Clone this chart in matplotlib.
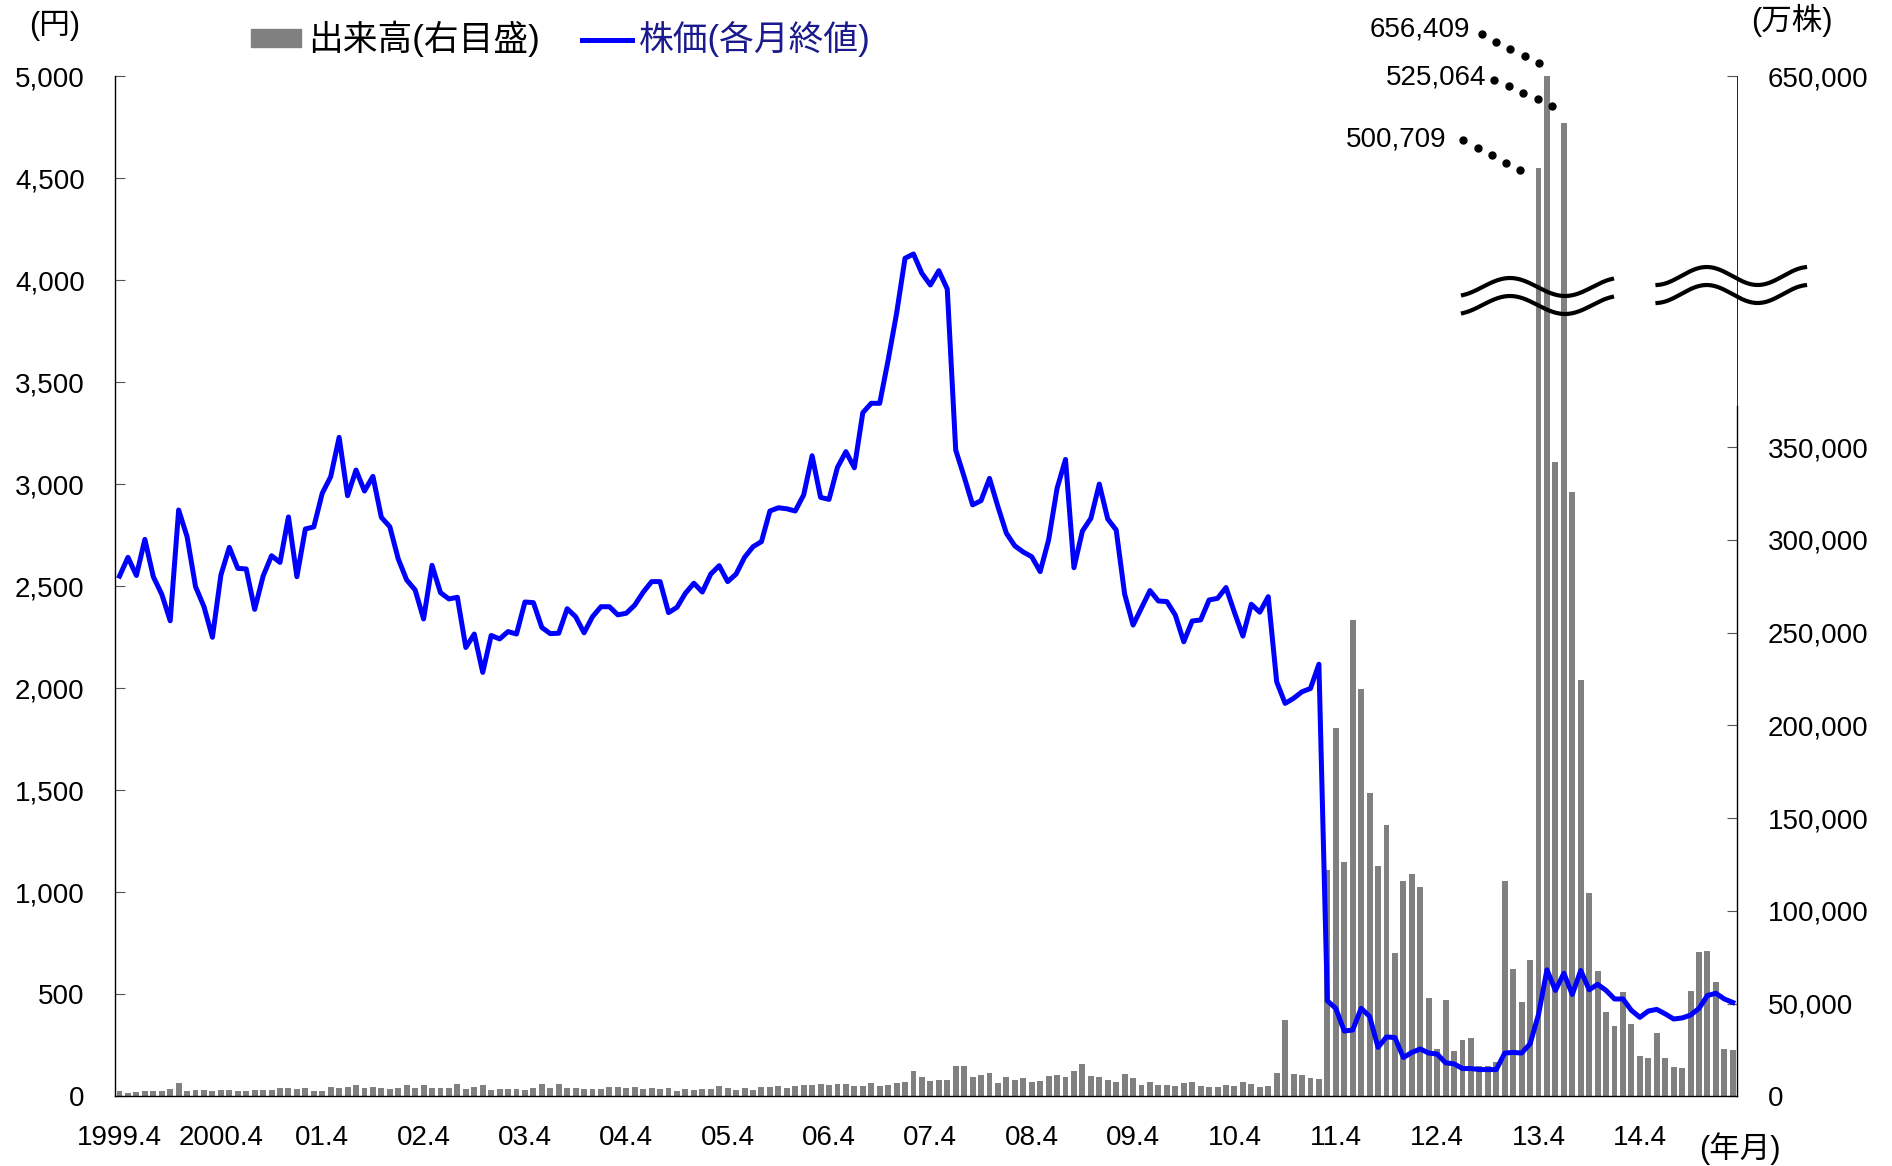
import numpy as np
import matplotlib
matplotlib.use("Agg")
import matplotlib.pyplot as plt
from matplotlib.patches import Patch
from matplotlib.lines import Line2D

plt.rcParams['font.family'] = ['Liberation Sans', 'Noto Sans CJK JP']

# 株価 (円, 各月終値) 1999.4 - 2015.3
price = [2550, 2642, 2553, 2730, 2547, 2461, 2331, 2874, 2743, 2498,
         2400, 2250, 2555, 2691, 2588, 2585, 2387, 2550, 2650, 2617,
         2840, 2547, 2781, 2791, 2956, 3037, 3230, 2944, 3070, 2967,
         3039, 2838, 2792, 2634, 2531, 2482, 2340,
         2603, 2469, 2438, 2446, 2200, 2266, 2078, 2259, 2242, 2278,
         2266, 2423, 2420, 2298, 2268, 2270, 2390, 2351, 2272, 2351,
         2400, 2400, 2360, 2368, 2408, 2471, 2523, 2523, 2371, 2397,
         2466, 2515, 2472, 2560, 2601, 2523, 2560, 2642,
         2694, 2719, 2869, 2885, 2880, 2869, 2948, 3140, 2936, 2926,
         3083, 3160, 3081, 3351, 3397, 3397, 3609, 3838, 4108, 4129,
         4034, 3977, 4047, 3957, 3168, 3037, 2899, 2920, 3029, 2890,
         2760, 2698, 2668, 2645, 2572, 2727, 2980, 3122,
         2591, 2771, 2833, 3001, 2830, 2776, 2462, 2310, 2395, 2479,
         2428, 2425, 2359, 2228, 2330, 2335, 2433, 2441, 2494, 2372,
         2256, 2412, 2373, 2449, 2032, 1926, 1951, 1983, 1999, 2118,
         468, 431, 320, 325, 431, 392, 240, 291, 288, 190,
         215, 232, 212, 207, 164, 159, 136, 136, 131, 131,
         131, 212, 215, 212, 257,
         401, 620, 519, 603, 499, 617, 522, 549, 519, 477,
         477, 421, 387, 418, 426, 404, 379, 384, 398, 431,
         494, 505, 477, 460]

# 出来高 (万株)
volume = [2850, 1780, 2310, 2670, 2670, 3030, 4110, 7160, 3030, 3390,
          3390, 3030, 3570, 3570, 3030, 3030, 3210, 3210, 3210, 4290,
          4290, 3930, 4650, 3030, 3030, 4830, 4650, 5010, 6260, 4650,
          5010, 4470, 3750, 4470, 6080, 4290, 5900, 4290, 4290, 4290,
          6620, 4110, 4830, 6080, 3570, 3750, 3750, 3750, 3390, 4470,
          6440, 4290, 6440, 4470, 4290, 4110, 3750, 3750, 4830, 4830,
          4290, 4830, 3930, 4470, 4110, 4650, 3030, 3750, 3570, 3750,
          3750, 5360, 4290, 3570, 4290, 3210, 4830, 4830, 5550, 4470,
          5360, 6260, 6260, 6800, 5900, 6440, 6440, 5360, 5720, 6980,
          5550, 6260, 6980, 7700, 13440, 10210, 8060, 8780, 8780, 16490,
          16310, 10390, 11290, 12370, 7160, 10570, 8600, 9690, 7520, 8240,
          10750, 11470, 10210, 13800, 17390, 10750, 10210, 8780, 7700, 12010,
          9690, 5900, 7880, 5900, 5900, 5360, 6980, 7520, 5720, 5010,
          5010, 5900, 5550, 7520, 6440, 4830, 5360, 12730, 41070, 12010,
          11300, 9690, 9150,
          122200, 198400, 126300, 256600, 219500, 163600, 124400, 146500, 77340, 116300,
          119600, 113100, 52900, 25460, 52150, 24160, 30460, 31380, 16200, 16200,
          18400, 115900, 68460, 50860, 73680,
          500709, 656409, 342000, 525064, 326000, 224300, 109800, 67540, 45480, 38050,
          56400, 38800, 21740, 20450, 34340, 20830, 15820, 15450, 57000, 77720,
          78100, 61620, 25460, 24920]

xlabels = ["1999.4", "2000.4", "01.4", "02.4", "03.4", "04.4", "05.4", "06.4",
           "07.4", "08.4", "09.4", "10.4", "11.4", "12.4", "13.4", "14.4"]
left_ticks = list(range(0, 5001, 500))
right_ticks = list(range(0, 350001, 50000)) + [550000]
right_labels = [f"{v:,}" for v in range(0, 350001, 50000)] + ["650,000"]
peak_labels = ["656,409", "525,064", "500,709"]

months = np.arange(len(price))

W, H = 1892, 1166
fig = plt.figure(figsize=(W / 100, H / 100), dpi=100)
ax = fig.add_axes([115.3 / W, 1 - 1096.3 / H, (1737 - 115.3) / W, (1096.3 - 76.3) / H])
ax2 = ax.twinx()

# bars (right axis) and price line (left axis), line on top
ax2.bar(months, volume, width=0.7, color="#808080")
ax.plot(months, price, color="#0000ff", lw=3.6, solid_joinstyle="round")
ax.set_zorder(ax2.get_zorder() + 1)
ax.patch.set_visible(False)

ax.set_xlim(-0.5, len(price) - 0.5)
ax.set_ylim(0, 5000)
ax2.set_ylim(0, 550000)

ax.set_xticks(months[::12])
ax.set_xticklabels(xlabels)
ax.set_yticks(left_ticks)
ax.set_yticklabels([f"{v:,}" for v in left_ticks])
ax2.set_yticks(right_ticks)
ax2.set_yticklabels(right_labels)

ax.tick_params(axis="y", direction="in", length=7.4, width=0.8, color="#555555", pad=22, labelsize=20)
ax.tick_params(axis="x", length=0, pad=21, labelsize=20)
ax2.tick_params(axis="y", direction="in", length=7.4, width=0.8, color="#555555", pad=22, labelsize=20)

for s in ["top", "right"]:
    ax.spines[s].set_visible(False)
for s in ["top", "left", "bottom"]:
    ax2.spines[s].set_visible(False)
ax.spines["left"].set_linewidth(1.0)
ax.spines["bottom"].set_linewidth(1.0)
# right axis: solid up to the break, thin line above it
ax2.spines["right"].set_bounds(0, 372000)
ax2.spines["right"].set_linewidth(1.0)
ax2.plot([1, 1], [372000, 550000], transform=ax2.get_yaxis_transform(),
         color="black", lw=0.6, clip_on=False)

# legend
handles = [Patch(color="#808080"), Line2D([], [], color="#0000ff", lw=3.6)]
fig.legend(handles, ["出来高(右目盛)", "株価(各月終値)"], loc="center left",
           bbox_to_anchor=(251 / W, 1 - 39 / H), bbox_transform=fig.transFigure,
           ncol=2, frameon=False, fontsize=25, handlelength=1.45, handleheight=0.4,
           handletextpad=0.2, columnspacing=1.2, borderpad=0, borderaxespad=0,
           labelcolor=["black", "#1a1a8c"])

# unit labels (pixel positions -> inches)
T = fig.dpi_scale_trans


def px(x, y):
    return x / 100, (H - y) / 100


fig.text(*px(55, 26), "(円)", transform=T, ha="center", va="center", fontsize=22)
fig.text(*px(1792, 20), "(万株)", transform=T, ha="center", va="center", fontsize=22)
fig.text(*px(1740, 1149), "(年月)", transform=T, ha="center", va="center", fontsize=22)

# labels for the clipped peaks with dotted leaders
leaders = [((1470, 29), (1481.6, 34.3), (1538.9, 63.3)),
           ((1486, 77), (1494, 80), (1552.4, 105.7)),
           ((1446, 140), (1463.4, 140), (1520.3, 170))]
for lab, (tpos, p0, p1) in zip(peak_labels, leaders):
    fig.text(*px(*tpos), lab, transform=T, ha="right", va="center", fontsize=20)
    xs = np.linspace(p0[0], p1[0], 5)
    ys = np.linspace(p0[1], p1[1], 5)
    fig.add_artist(Line2D(xs / 100, (H - ys) / 100, transform=T, ls="none",
                          marker="o", ms=5, color="black"))

# axis break marks (double wavy lines)
for x0, x1, xc, P, c in [(1463, 1612, 1482.5, 110, 287), (1657.5, 1805, 1681.2, 102, 276)]:
    xx = np.linspace(x0, x1, 200)
    for off in (0, 18):
        yy = c + off - 9 * np.sin(2 * np.pi * (xx - xc) / P)
        fig.add_artist(Line2D(xx / 100, (H - yy) / 100, transform=T, color="black", lw=3))

fig.savefig("out.png", dpi=100)
